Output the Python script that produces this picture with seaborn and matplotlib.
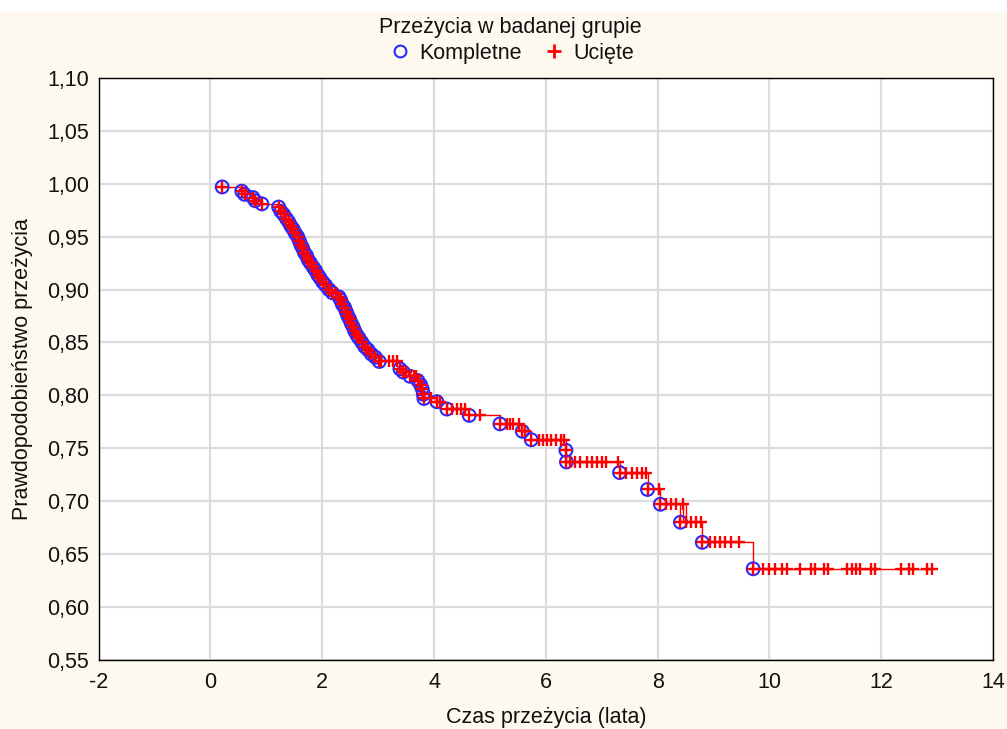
import numpy as np
import pandas as pd
import seaborn as sns
import matplotlib
matplotlib.use("Agg")
import matplotlib.pyplot as plt
from matplotlib.lines import Line2D
from matplotlib.patches import Rectangle
from matplotlib.ticker import FuncFormatter, MultipleLocator, AutoMinorLocator

# ------ dane ------ #
# zdarzenia kompletne: czas (lata) i prawdopodobienstwo przezycia po zdarzeniu
event_time = [0.21, 0.56, 0.61, 0.76, 0.80, 0.92,
              1.22, 1.26, 1.31, 1.36, 1.40, 1.44, 1.48, 1.52, 1.56, 1.59,
              1.62, 1.65, 1.68, 1.72, 1.75, 1.79, 1.84, 1.88, 1.92, 1.96,
              2.01, 2.06, 2.12, 2.18, 2.30, 2.33, 2.36, 2.40, 2.43, 2.46,
              2.49, 2.52, 2.55, 2.58, 2.62, 2.66, 2.71, 2.76, 2.82, 2.88,
              2.95, 3.02,
              3.39, 3.45, 3.57, 3.71, 3.76, 3.79, 3.81, 3.82, 4.05, 4.23,
              4.63, 5.18, 5.58, 5.74, 6.36, 6.37, 7.32, 7.82, 8.05, 8.41,
              8.80, 9.71]
event_surv = [0.997, 0.993, 0.990, 0.987, 0.984, 0.981,
              0.978, 0.974, 0.971, 0.967, 0.964, 0.960, 0.957, 0.953, 0.950, 0.946,
              0.942, 0.939, 0.935, 0.932, 0.928, 0.925, 0.921, 0.918, 0.914, 0.911,
              0.907, 0.904, 0.900, 0.897, 0.893, 0.890, 0.886, 0.883, 0.879, 0.875,
              0.872, 0.868, 0.865, 0.861, 0.857, 0.854, 0.850, 0.846, 0.843, 0.839,
              0.836, 0.832,
              0.825, 0.822, 0.818, 0.814, 0.810, 0.806, 0.801, 0.797, 0.794, 0.787,
              0.781, 0.773, 0.766, 0.758, 0.748, 0.737, 0.727, 0.711, 0.697, 0.680,
              0.661, 0.636]

# obserwacje uciete
cens_time = [1.80, 2.24,
             3.06, 3.20, 3.27, 3.33, 3.50, 3.64, 3.68, 3.95, 4.10,
             4.32, 4.42, 4.48, 4.55, 4.82,
             5.30, 5.36, 5.42, 5.52, 5.62,
             5.88, 5.95, 6.02, 6.10, 6.18, 6.28, 6.33,
             6.43, 6.52, 6.61, 6.73, 6.82, 6.91, 7.00, 7.08, 7.29,
             7.44, 7.55, 7.64, 7.73, 7.80, 8.03,
             8.15, 8.24, 8.33, 8.45, 8.51, 8.60, 8.69, 8.77,
             8.93, 9.02, 9.11, 9.20, 9.32, 9.46,
             9.88, 10.00, 10.11, 10.23, 10.32, 10.54, 10.75, 10.82, 10.98,
             11.05, 11.39, 11.48, 11.55, 11.63, 11.82, 11.89, 12.36, 12.50,
             12.57, 12.82, 12.91]
cens_surv = [0.925, 0.897,
             0.832, 0.832, 0.832, 0.832, 0.822, 0.818, 0.818, 0.797, 0.794,
             0.787, 0.787, 0.787, 0.787, 0.781,
             0.773, 0.773, 0.773, 0.773, 0.766,
             0.758, 0.758, 0.758, 0.758, 0.758, 0.758, 0.758,
             0.737, 0.737, 0.737, 0.737, 0.737, 0.737, 0.737, 0.737, 0.737,
             0.727, 0.727, 0.727, 0.727, 0.727, 0.711,
             0.697, 0.697, 0.697, 0.697, 0.680, 0.680, 0.680, 0.680,
             0.661, 0.661, 0.661, 0.661, 0.661, 0.661,
             0.636, 0.636, 0.636, 0.636, 0.636, 0.636, 0.636, 0.636, 0.636,
             0.636, 0.636, 0.636, 0.636, 0.636, 0.636, 0.636, 0.636, 0.636,
             0.636, 0.636, 0.636]

x_ticks = list(range(-2, 15, 2))
y_ticks = [0.55, 0.60, 0.65, 0.70, 0.75, 0.80, 0.85, 0.90, 0.95, 1.00, 1.05, 1.10]

events = pd.DataFrame({"czas": event_time, "przezycie": event_surv, "typ": "Kompletne"})
censored = pd.DataFrame({"czas": cens_time, "przezycie": cens_surv, "typ": "Ucięte"})
allpts = pd.concat([events, censored]).sort_values(["czas", "przezycie"],
                                                   ascending=[True, False])

sns.set_theme(style="white")
plt.rcParams["font.family"] = ["Liberation Sans", "DejaVu Sans"]
plt.rcParams["axes.unicode_minus"] = False

FS = 15.5

fig = plt.figure(figsize=(10.07, 7.29), dpi=100, facecolor="#FDF9EE")
# biały pasek u góry jak w oryginale
fig.patches.append(Rectangle((0, 1 - 12 / 729), 1, 12 / 729, transform=fig.transFigure,
                             facecolor="white", edgecolor="none", zorder=0))
ax = fig.add_axes([0.098, 0.095, 0.888, 0.798])
ax.set_facecolor("white")

# ------ krzywa schodkowa ------ #
sns.lineplot(data=allpts, x="czas", y="przezycie", estimator=None, sort=False,
             drawstyle="steps-post", color="red", linewidth=1.0, ax=ax, zorder=2)
# ------ punkty ------ #
sns.scatterplot(data=events, x="czas", y="przezycie", marker="o", s=85,
                facecolor="none", edgecolor="#2a2aff", linewidth=1.5, ax=ax, zorder=3)
sns.scatterplot(data=allpts, x="czas", y="przezycie", marker="+", s=75,
                color="red", linewidth=1.7, ax=ax, zorder=4)

ax.set_xlim(-2, 14)
ax.set_ylim(0.55, 1.10)
ax.set_xticks(x_ticks)
ax.set_yticks(y_ticks)
ax.xaxis.set_minor_locator(AutoMinorLocator(2))
ax.yaxis.set_minor_locator(MultipleLocator(0.01))
ax.yaxis.set_major_formatter(FuncFormatter(lambda v, p: f"{v:.2f}".replace(".", ",")))
ax.tick_params(which="both", direction="in", color="black", labelsize=FS,
               labelcolor="#111111")
ax.tick_params(which="major", length=5, width=1)
ax.tick_params(which="minor", length=3, width=0.8)
ax.tick_params(axis="x", pad=9)
ax.tick_params(axis="y", pad=7)
ax.grid(True, which="major", color="#DCDCDC", linewidth=1.6)
ax.set_axisbelow(True)
for sp in ax.spines.values():
    sp.set_color("black")
    sp.set_linewidth(1.0)

ax.set_xlabel("Czas przeżycia (lata)", fontsize=FS, labelpad=10, color="#111111")
ax.set_ylabel("Prawdopodobieństwo przeżycia", fontsize=FS, labelpad=10, color="#111111")

handles = [
    Line2D([], [], linestyle="none", marker="o", markersize=8.5, markerfacecolor="none",
           markeredgecolor="#2a2aff", markeredgewidth=1.5),
    Line2D([], [], linestyle="none", marker="+", markersize=10, color="red",
           markeredgewidth=2.0),
]
leg = fig.legend(handles, ["Kompletne", "Ucięte"], title="Przeżycia w badanej grupie",
                 loc="upper center", bbox_to_anchor=(0.507, 0.988), ncol=2, frameon=False,
                 fontsize=FS, title_fontsize=FS, handletextpad=0.3, columnspacing=0.9,
                 borderaxespad=0.0, labelspacing=0.2, handlelength=1.2)
for t in leg.get_texts():
    t.set_color("#111111")
leg.get_title().set_color("#111111")

fig.savefig("out.png", dpi=100, facecolor=fig.get_facecolor())
